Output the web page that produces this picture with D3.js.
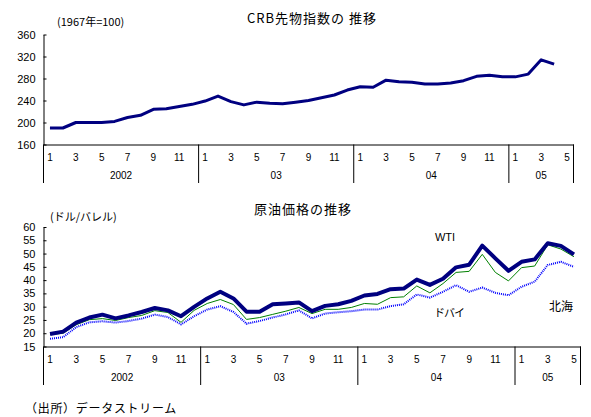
<!DOCTYPE html>
<html><head><meta charset="utf-8">
<script src="https://cdn.jsdelivr.net/npm/d3@7"></script>
<style>
body{margin:0;background:#fff;}
svg{display:block;font-family:"Liberation Sans",Arial,"Noto Sans CJK JP",sans-serif;}
.jp{font-family:"Noto Sans CJK JP",sans-serif;}
</style></head>
<body><svg id="c" width="591" height="417"></svg>
<script>
// ---- data ----
const months = [
 "2002-01","2002-02","2002-03","2002-04","2002-05","2002-06","2002-07","2002-08","2002-09","2002-10","2002-11","2002-12",
 "2003-01","2003-02","2003-03","2003-04","2003-05","2003-06","2003-07","2003-08","2003-09","2003-10","2003-11","2003-12",
 "2004-01","2004-02","2004-03","2004-04","2004-05","2004-06","2004-07","2004-08","2004-09","2004-10","2004-11","2004-12",
 "2005-01","2005-02","2005-03","2005-04","2005-05"];
const yearLabels = ["2002","03","04","05"];
const crb = [190,190,200,200,200,202,209,213,224,225,229,233,
 239,248,238,232,237,235,234,237,240,245,250,259,
 265,264,277,274,273,270,270,272,276,284,286,283,
 283,288,314,306,null];
const wti = [19.7,20.6,24.0,25.9,27.0,25.6,26.7,28.0,29.5,28.6,26.4,29.9,
 33.1,35.6,33.1,28.1,28.1,30.9,31.2,31.6,28.3,30.3,30.9,32.2,
 34.2,34.8,36.6,36.8,40.2,38.2,40.5,44.8,45.8,53.0,48.2,43.5,
 46.9,47.8,53.9,52.9,49.7];
const brent = [19.5,20.0,23.2,25.1,25.5,24.8,25.9,26.7,28.5,27.8,24.1,28.6,
 31.2,32.7,30.8,25.2,25.9,27.1,28.3,29.7,27.4,29.0,29.0,29.7,
 31.2,30.9,33.4,33.7,37.8,35.2,38.7,42.9,43.3,49.7,42.9,39.7,
 44.7,45.3,53.3,51.7,48.8];
const dubai = [17.9,18.5,22.3,24.1,24.5,24.0,24.6,25.5,27.0,26.1,23.3,26.4,
 28.9,30.2,28.0,23.6,24.6,25.9,27.1,28.6,25.6,27.4,27.9,28.3,
 28.9,28.9,30.2,30.9,34.6,33.4,35.6,38.1,35.6,37.2,35.2,34.3,
 37.5,39.4,45.7,46.9,45.0];
const crbTicks = [160,200,240,280,320,360];
const oilTicks = [15,20,25,30,35,40,45,50,55,60];

const svg = d3.select("#c");

function panel(o){
  const x = d3.scaleBand().domain(months).range([o.x0, o.x1]).padding(0);
  const y = d3.scaleLinear().domain(o.dom).range([o.yb, o.yt]);
  const g = svg.append("g");
  // y axis
  const ya = g.append("g").attr("transform",`translate(${o.x0},0)`)
    .call(d3.axisLeft(y).tickValues(o.ticks).tickSize(-3).tickSizeOuter(0).tickPadding(8));
  ya.selectAll("text").attr("font-size",11).attr("fill","#000");
  ya.selectAll("line,path").attr("stroke","#000");
  // x axis
  const xa = g.append("g").attr("transform",`translate(0,${o.yb})`)
    .call(d3.axisBottom(x).tickValues(months.filter(m=>(+m.slice(5))%2===1))
      .tickFormat(m=>+m.slice(5)).tickSize(0).tickSizeOuter(0).tickPadding(9));
  xa.selectAll("text").attr("font-size",10).attr("fill","#000");
  xa.select("path").attr("stroke","#000");
  // year separators and labels
  const yrs = d3.groups(months, m=>m.slice(0,4));
  const bottom = o.yb + 38.5;
  const seps = yrs.map(([k,ms])=>x(ms[0])).concat([o.x1]);
  g.selectAll("line.sep").data(seps).join("line").attr("class","sep")
    .attr("x1",d=>d).attr("x2",d=>d).attr("y1",o.yb).attr("y2",bottom)
    .attr("stroke","#000");
  g.selectAll("text.yr").data(yrs).join("text").attr("class","yr")
    .attr("x",(d)=>{const ms=d[1];return (x(ms[0])+x(ms[ms.length-1])+x.bandwidth())/2;})
    .attr("y",o.yb+31).attr("dy","0.35em").attr("text-anchor","middle")
    .attr("font-size",10).text((d,i)=>yearLabels[i]);
  return {x,y,g};
}

// ---- top: CRB ----
const p1 = panel({x0:43.5,x1:573.5,yt:34.5,yb:144.5,dom:[160,360],ticks:crbTicks});
const line1 = d3.line().defined(d=>d[1]!=null).x(d=>p1.x(d[0])+p1.x.bandwidth()/2).y(d=>p1.y(d[1]));
p1.g.append("path").datum(months.map((m,i)=>[m,crb[i]])).attr("d",line1)
  .attr("fill","none").attr("stroke","#000080").attr("stroke-width",3).attr("stroke-linejoin","round");
svg.append("text").attr("class","jp").attr("x",312).attr("y",18).attr("dy","0.35em")
  .attr("text-anchor","middle").attr("font-size",13).attr("letter-spacing",1).text("CRB先物指数の 推移");
svg.append("text").attr("class","jp").attr("x",57).attr("y",22).attr("dy","0.35em")
  .attr("font-size",11).text("(1967年=100)");

// ---- bottom: crude oil ----
const p2 = panel({x0:43.5,x1:580.5,yt:227,yb:346.5,dom:[15,60],ticks:oilTicks});
const line2 = d3.line().x(d=>p2.x(d[0])+p2.x.bandwidth()/2).y(d=>p2.y(d[1]));
const series = [
  {v:dubai, c:"#0000ff", w:2, dash:"1,1"},
  {v:brent, c:"#008000", w:1, dash:null},
  {v:wti,   c:"#000080", w:4, dash:null}
];
series.forEach(s=>{
  p2.g.append("path").datum(months.map((m,i)=>[m,s.v[i]])).attr("d",line2)
    .attr("fill","none").attr("stroke",s.c).attr("stroke-width",s.w)
    .attr("stroke-dasharray",s.dash).attr("stroke-linejoin","round");
});
svg.append("text").attr("class","jp").attr("x",303).attr("y",209).attr("dy","0.35em")
  .attr("text-anchor","middle").attr("font-size",13).attr("letter-spacing",1).text("原油価格の推移");
svg.append("text").attr("class","jp").attr("x",50).attr("y",217).attr("dy","0.35em")
  .attr("font-size",11).text("(ドル/バレル)");
svg.append("text").attr("x",445).attr("y",237).attr("dy","0.35em").attr("text-anchor","middle")
  .attr("font-size",11).text("WTI");
svg.append("text").attr("class","jp").attr("x",561).attr("y",307).attr("dy","0.35em").attr("text-anchor","middle")
  .attr("font-size",12).text("北海");
svg.append("text").attr("class","jp").attr("x",449).attr("y",313).attr("dy","0.35em").attr("text-anchor","middle")
  .attr("font-size",11).attr("letter-spacing",-1).text("ドバイ");
svg.append("text").attr("class","jp").attr("x",25).attr("y",409).attr("dy","0.35em")
  .attr("font-size",12).attr("letter-spacing",0.7).text("（出所）データストリーム");
</script></body></html>
